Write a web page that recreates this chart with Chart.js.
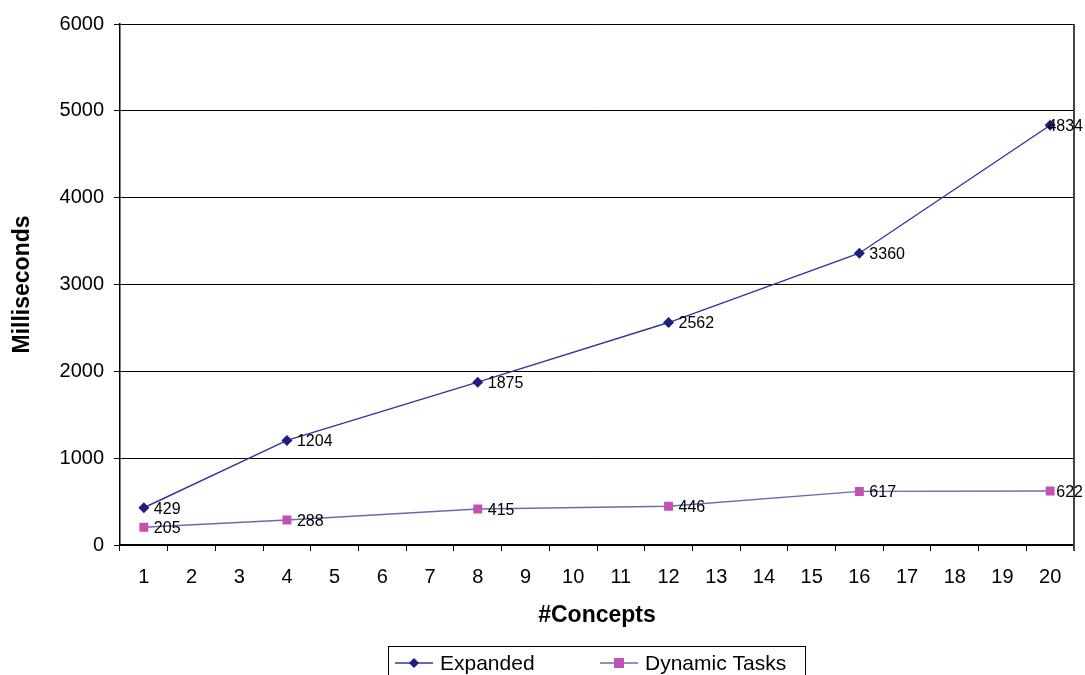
<!DOCTYPE html>
<html>
<head>
<meta charset="utf-8">
<script src="https://cdn.jsdelivr.net/npm/chart.js@4.4.0/dist/chart.umd.min.js"></script>
<style>
  html, body { margin: 0; padding: 0; background: #ffffff; }
  #wrap { width: 1085px; height: 675px; position: relative; }
</style>
</head>
<body>
<div id="wrap"><canvas id="c" width="1085" height="675"></canvas></div>
<script>
// Number of concepts on the x axis
const categories = ['1','2','3','4','5','6','7','8','9','10','11','12','13','14','15','16','17','18','19','20'];
// Measured run times (ms); null where no measurement was taken
const expanded = [429, null, null, 1204, null, null, null, 1875, null, null, null, 2562, null, null, null, 3360, null, null, null, 4834];
const dynamicTasks = [205, null, null, 288, null, null, null, 415, null, null, null, 446, null, null, null, 617, null, null, null, 622];
const yTicks = [0, 1000, 2000, 3000, 4000, 5000, 6000];

const FONT = '"Liberation Sans", Arial, sans-serif';

// Value labels next to each point
const valueLabels = {
  id: 'valueLabels',
  afterDatasetsDraw(chart) {
    const ctx = chart.ctx;
    ctx.save();
    ctx.font = '16px ' + FONT;
    ctx.fillStyle = '#000';
    ctx.textBaseline = 'middle';
    ctx.textAlign = 'left';
    chart.data.datasets.forEach((ds, i) => {
      const meta = chart.getDatasetMeta(i);
      meta.data.forEach((pt, j) => {
        const v = ds.data[j];
        if (v === null || v === undefined) return;
        const txt = String(v);
        const w = ctx.measureText(txt).width;
        let x = pt.x + 10;
        x = Math.min(x, chart.width - w - 2);
        ctx.fillText(txt, x, pt.y + 1.5);
      });
    });
    ctx.restore();
  }
};

// Boxed legend below the axis title, with line + marker samples
const boxLegend = {
  id: 'boxLegend',
  afterDraw(chart) {
    const ctx = chart.ctx;
    ctx.save();
    ctx.strokeStyle = '#000';
    ctx.lineWidth = 1;
    ctx.strokeRect(388.5, 646.5, 417, 40);
    ctx.font = '21px ' + FONT;
    ctx.textBaseline = 'middle';
    const y = 663;
    const items = [
      { x: 395, ds: chart.data.datasets[0], text: 'Expanded' },
      { x: 600, ds: chart.data.datasets[1], text: 'Dynamic Tasks' }
    ];
    items.forEach(it => {
      ctx.strokeStyle = it.ds.borderColor;
      ctx.lineWidth = 1.5;
      ctx.beginPath();
      ctx.moveTo(it.x, y);
      ctx.lineTo(it.x + 38, y);
      ctx.stroke();
      const cx = it.x + 19;
      ctx.fillStyle = it.ds.pointBackgroundColor;
      if (it.ds.pointStyle === 'rectRot') {
        ctx.beginPath();
        ctx.moveTo(cx, y - 5); ctx.lineTo(cx + 5, y); ctx.lineTo(cx, y + 5); ctx.lineTo(cx - 5, y);
        ctx.closePath(); ctx.fill();
      } else {
        ctx.fillRect(cx - 5, y - 5, 10, 10);
      }
      ctx.fillStyle = '#000';
      ctx.fillText(it.text, it.x + 45, y + 1);
    });
    ctx.restore();
  }
};

// Right-hand frame of the plot area
const plotFrame = {
  id: 'plotFrame',
  beforeDatasetsDraw(chart) {
    const a = chart.chartArea, ctx = chart.ctx;
    ctx.save();
    ctx.strokeStyle = '#444';
    ctx.lineWidth = 2;
    ctx.beginPath();
    ctx.moveTo(a.right, a.top);
    ctx.lineTo(a.right, a.bottom + 6);
    ctx.stroke();
    ctx.restore();
  }
};

new Chart(document.getElementById('c'), {
  type: 'line',
  data: {
    labels: categories,
    datasets: [
      {
        label: 'Expanded',
        data: expanded,
        spanGaps: true,
        borderColor: '#3434a0',
        borderWidth: 1.4,
        pointStyle: 'rectRot',
        pointRadius: 5.5,
        pointBackgroundColor: '#1e1e80',
        pointBorderColor: '#1e1e80',
        pointBorderWidth: 0,
        tension: 0
      },
      {
        label: 'Dynamic Tasks',
        data: dynamicTasks,
        spanGaps: true,
        borderColor: '#6a6aae',
        borderWidth: 1.4,
        pointStyle: 'rect',
        pointRadius: 6.3,
        pointBackgroundColor: '#c350b4',
        pointBorderColor: '#c350b4',
        pointBorderWidth: 0,
        tension: 0
      }
    ]
  },
  options: {
    responsive: false,
    animation: false,
    devicePixelRatio: 1,
    layout: { padding: { top: 24, right: 11, left: 0, bottom: 0 } },
    plugins: {
      legend: { display: false },
      tooltip: { enabled: false }
    },
    scales: {
      x: {
        type: 'category',
        offset: true,
        afterFit(s) { s.height = 130; },
        grid: {
          offset: true,
          drawOnChartArea: false,
          drawTicks: true,
          tickLength: 6,
          color: '#000'
        },
        border: { display: true, color: '#000', width: 1.5 },
        ticks: {
          color: '#000',
          font: { family: FONT, size: 20 },
          padding: 14,
          maxRotation: 0,
          autoSkip: false
        },
        title: {
          display: true,
          text: '#Concepts',
          color: '#000',
          font: { family: FONT, size: 23, weight: 'bold' },
          padding: { top: 0, bottom: 46 }
        }
      },
      y: {
        min: 0,
        max: 6000,
        afterFit(s) { s.width = 120; },
        afterBuildTicks(s) { s.ticks = yTicks.map(v => ({ value: v })); },
        grid: {
          color: '#000',
          lineWidth: 1,
          drawTicks: true,
          tickLength: 6
        },
        border: { display: true, color: '#000', width: 1.5 },
        ticks: {
          color: '#000',
          font: { family: FONT, size: 20 },
          padding: 10,
          callback: v => String(v)
        },
        title: {
          display: true,
          text: 'Milliseconds',
          color: '#000',
          font: { family: FONT, size: 23, weight: 'bold' },
          padding: { top: 9, bottom: 0 }
        }
      }
    }
  },
  plugins: [plotFrame, valueLabels, boxLegend]
});
</script>
</body>
</html>
